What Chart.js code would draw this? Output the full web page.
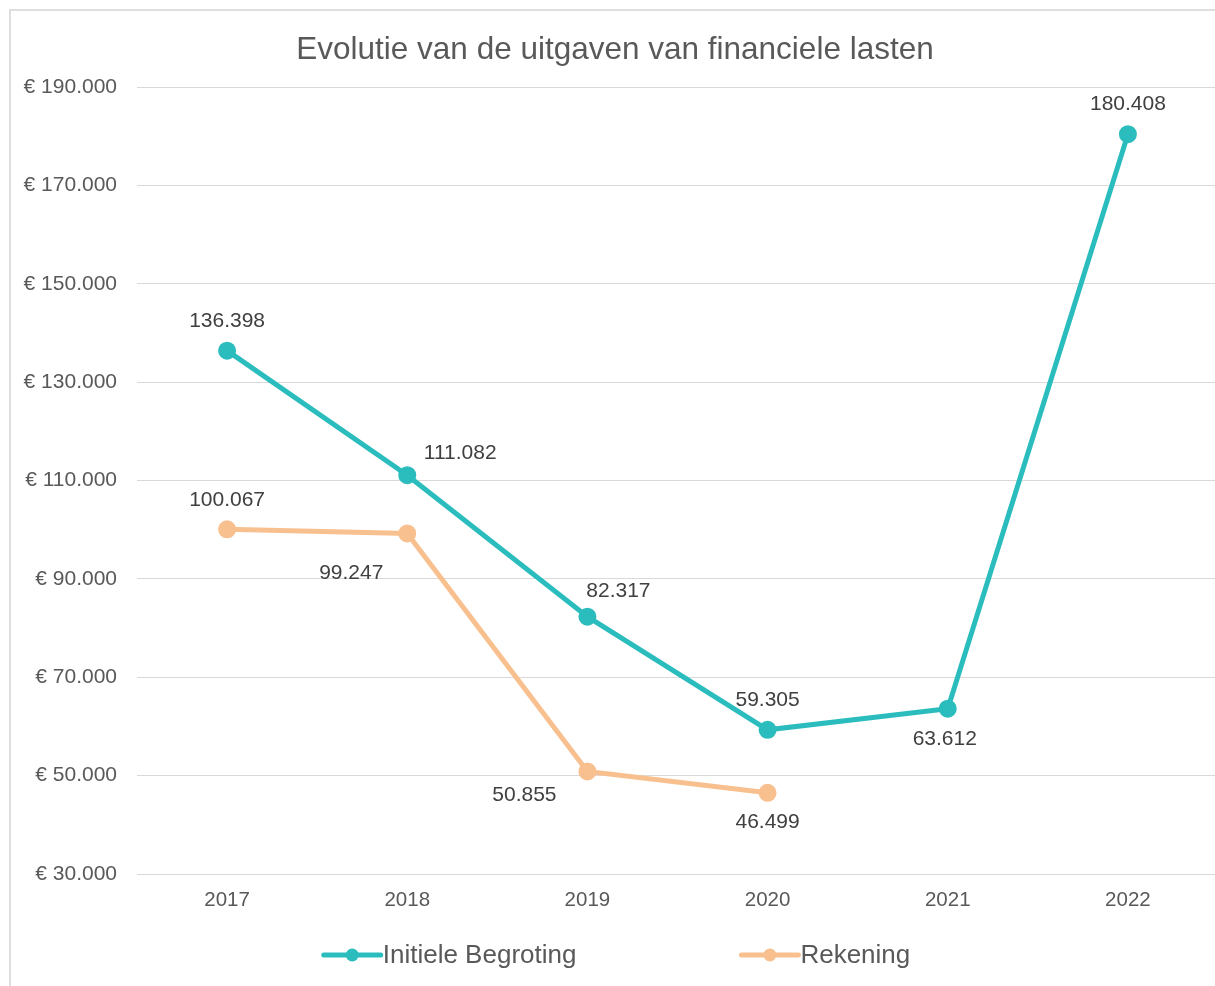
<!DOCTYPE html>
<html>
<head>
<meta charset="utf-8">
<script src="https://cdn.jsdelivr.net/npm/chart.js@4.4.1/dist/chart.umd.min.js"></script>
<style>
    html, body { margin: 0; padding: 0; background: #fff; overflow: hidden; }
    #frame {
        position: absolute; left: 9px; top: 9px;
        width: 1300px; height: 1100px;
        border: 2px solid #dedede;
    }
    #chart { position: absolute; left: 0; top: 0; }
</style>
</head>
<body>
<div id="frame"></div>
<canvas id="chart" width="1230" height="986"></canvas>
<script>
const years = ["2017", "2018", "2019", "2020", "2021", "2022"];
const initieleBegroting = [136398, 111082, 82317, 59305, 63612, 180408];
const rekening = [100067, 99247, 50855, 46499, null, null];
const yTicks = [30000, 50000, 70000, 90000, 110000, 130000, 150000, 170000, 190000];

// label offsets (dx, dy) from each point, as in the original
const labelOffsets = [
    [[0, -29], [53, -22], [31, -25], [0, -30], [-3, 31], [0, -30]],
    [[0, -29], [-56, 40], [-63, 24], [0, 29], null, null]
];

const fontFamily = '"Liberation Sans", Arial, sans-serif';
const textGrey = '#595959';
const teal = '#2bbdbd';
const peach = '#f9c08f';

function formatThousands(v) {
    return String(Math.round(v)).replace(/\B(?=(\d{3})+(?!\d))/g, '.');
}

// titel, data labels en legende zelf tekenen
const decorPlugin = {
    id: 'decor',
    afterDatasetsDraw(chart) {
        const ctx = chart.ctx;
        ctx.save();
        ctx.font = `21px ${fontFamily}`;
        ctx.fillStyle = '#404040';
        ctx.textAlign = 'center';
        ctx.textBaseline = 'middle';
        chart.data.datasets.forEach((ds, i) => {
            const meta = chart.getDatasetMeta(i);
            meta.data.forEach((pt, j) => {
                const v = ds.data[j];
                const off = labelOffsets[i][j];
                if (v === null || !off) return;
                ctx.fillText(formatThousands(v), pt.x + off[0], pt.y + off[1]);
            });
        });
        ctx.restore();
    },
    afterDraw(chart) {
        const ctx = chart.ctx;
        ctx.save();
        // titel
        ctx.font = `31.5px ${fontFamily}`;
        ctx.fillStyle = textGrey;
        ctx.textAlign = 'center';
        ctx.textBaseline = 'middle';
        ctx.fillText('Evolutie van de uitgaven van financiele lasten', 615, 50);

        // legende
        ctx.font = `26px ${fontFamily}`;
        ctx.textAlign = 'left';
        const y = 955;
        const markerW = 57;
        const gap = 165;
        const items = chart.data.datasets.map(ds => ({
            label: ds.label,
            color: ds.borderColor,
            w: ctx.measureText(ds.label).width
        }));
        const total = items.reduce((s, it) => s + markerW + 2 + it.w, 0) + gap * (items.length - 1);
        let x = 617 - total / 2;
        items.forEach(it => {
            ctx.strokeStyle = it.color;
            ctx.lineWidth = 5;
            ctx.lineCap = 'round';
            ctx.beginPath();
            ctx.moveTo(x, y);
            ctx.lineTo(x + markerW, y);
            ctx.stroke();
            ctx.fillStyle = it.color;
            ctx.beginPath();
            ctx.arc(x + markerW / 2, y, 6.5, 0, Math.PI * 2);
            ctx.fill();
            ctx.fillStyle = textGrey;
            ctx.fillText(it.label, x + markerW + 2, y + 1);
            x += markerW + 2 + it.w + gap;
        });
        ctx.restore();
    }
};

new Chart(document.getElementById('chart'), {
    type: 'line',
    data: {
        labels: years,
        datasets: [
            {
                label: 'Initiele Begroting',
                data: initieleBegroting,
                borderColor: teal,
                backgroundColor: teal,
                borderWidth: 5,
                pointRadius: 6.5,
                pointHoverRadius: 6.5,
                tension: 0
            },
            {
                label: 'Rekening',
                data: rekening,
                borderColor: peach,
                backgroundColor: peach,
                borderWidth: 5,
                pointRadius: 6.5,
                pointHoverRadius: 6.5,
                tension: 0
            }
        ]
    },
    options: {
        responsive: false,
        animation: false,
        layout: { padding: { top: 87, right: 12, left: 0, bottom: 0 } },
        plugins: {
            legend: { display: false },
            title: { display: false },
            tooltip: { enabled: false }
        },
        scales: {
            x: {
                offset: true,
                grid: { display: false, drawTicks: false },
                border: { display: true, color: '#d9d9d9', width: 1 },
                ticks: {
                    color: textGrey,
                    font: { family: fontFamily, size: 20.5 },
                    padding: 14,
                    maxRotation: 0
                },
                afterFit(scale) { scale.height = 112; }
            },
            y: {
                min: 30000,
                max: 190000,
                afterBuildTicks(scale) {
                    scale.ticks = yTicks.map(v => ({ value: v }));
                },
                grid: { color: '#d9d9d9', lineWidth: 1, drawTicks: false },
                border: { display: false },
                ticks: {
                    color: textGrey,
                    font: { family: fontFamily, size: 21 },
                    padding: 20,
                    callback: v => '€ ' + formatThousands(v)
                },
                afterFit(scale) { scale.width = 137; }
            }
        }
    },
    plugins: [decorPlugin]
});
</script>
</body>
</html>
